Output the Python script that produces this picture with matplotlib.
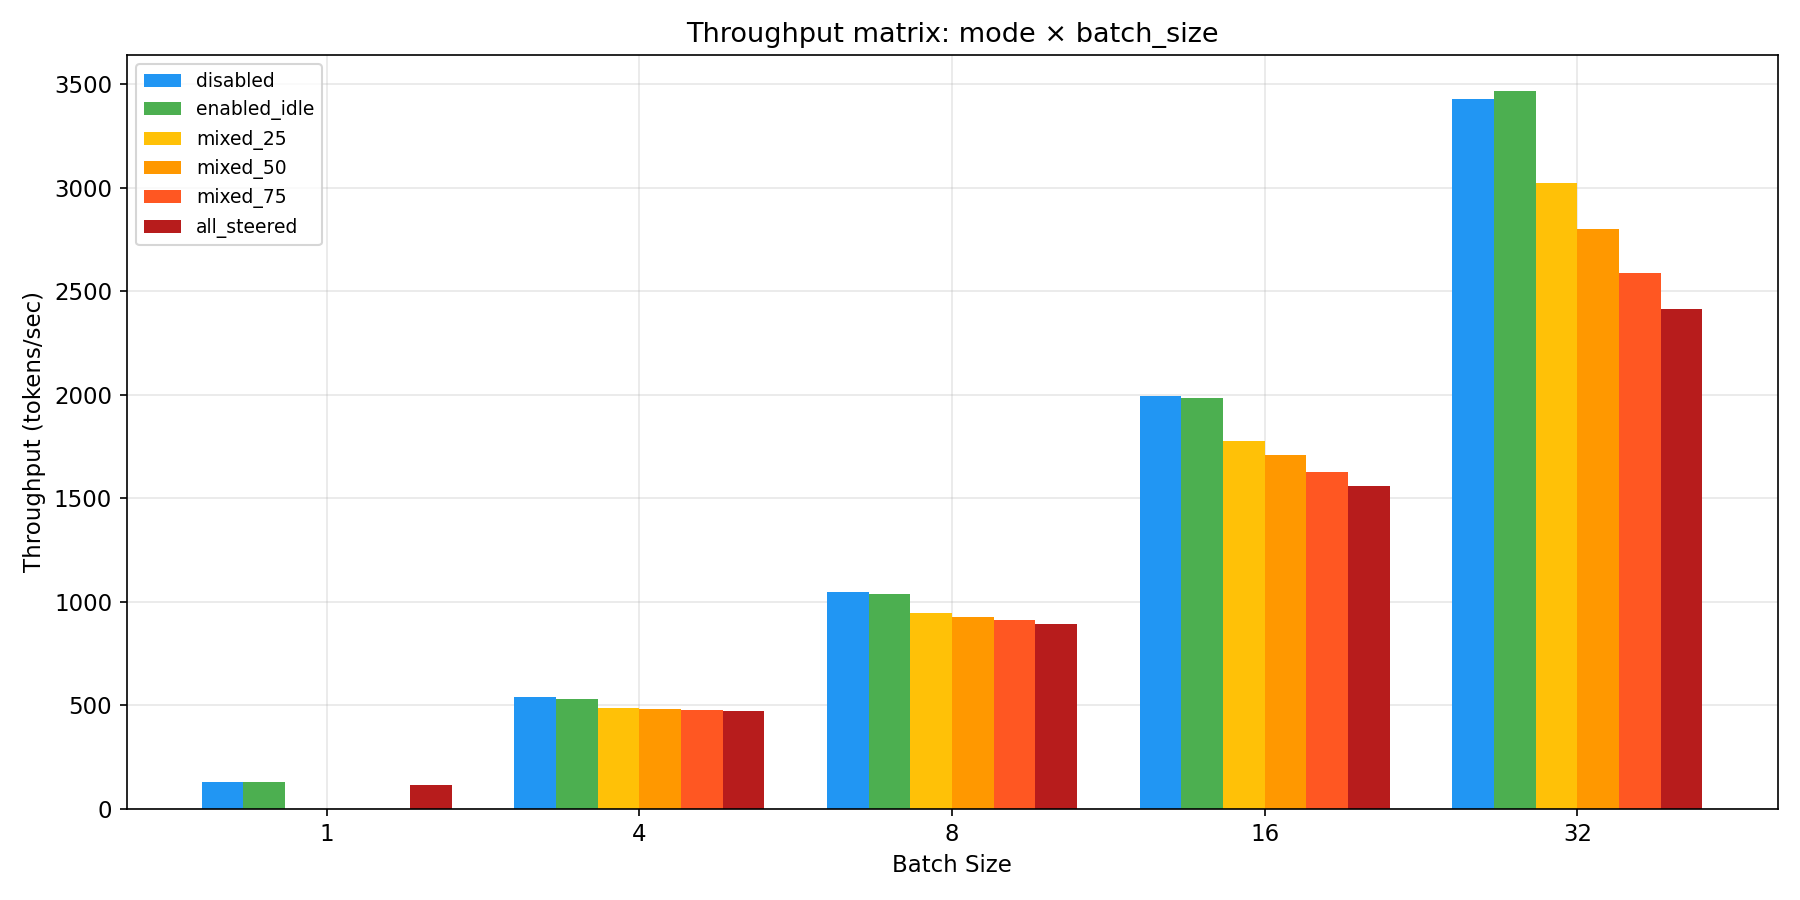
import numpy as np
import matplotlib
matplotlib.use("Agg")
import matplotlib.pyplot as plt

batch_sizes = ["1", "4", "8", "16", "32"]
modes = ["disabled", "enabled_idle", "mixed_25", "mixed_50", "mixed_75", "all_steered"]
colors = ["#2196F3", "#4CAF50", "#FFC107", "#FF9800", "#FF5722", "#B71C1C"]

disabled = [130, 537, 1047, 1995, 3430]
enabled_idle = [130, 530, 1037, 1985, 3469]
mixed_25 = [0, 488, 945, 1776, 3023]
mixed_50 = [0, 482, 926, 1708, 2800]
mixed_75 = [0, 476, 911, 1625, 2591]
all_steered = [115, 472, 892, 1557, 2416]

series = [disabled, enabled_idle, mixed_25, mixed_50, mixed_75, all_steered]

fig, ax = plt.subplots(figsize=(12, 6), dpi=150)
x = np.arange(len(batch_sizes))
w = 0.8 / len(modes)
for i, (name, vals, c) in enumerate(zip(modes, series, colors)):
    ax.bar(x + (i - 2.5) * w, vals, w, label=name, color=c)

ax.set_xticks(x)
ax.set_xticklabels(batch_sizes)
ax.tick_params(labelsize=11)
ax.set_xlabel("Batch Size", fontsize=11)
ax.set_ylabel("Throughput (tokens/sec)", fontsize=11)
ax.set_title("Throughput matrix: mode \u00d7 batch_size", fontsize=13)
ax.legend(loc="upper left", fontsize=9)
ax.grid(True, alpha=0.3)
ax.set_axisbelow(True)

fig.tight_layout()
fig.savefig("out.png")
